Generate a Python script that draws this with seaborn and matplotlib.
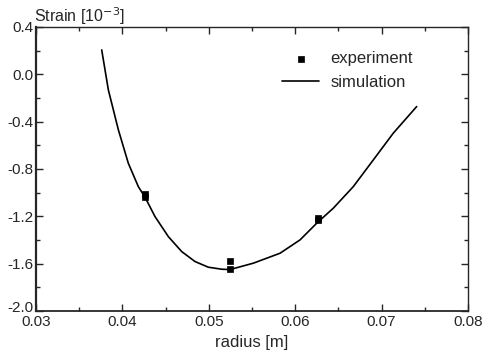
import matplotlib
matplotlib.use('Agg')
import matplotlib.pyplot as plt
import matplotlib.transforms as mtransforms
import numpy as np
import pandas as pd
import seaborn as sns
from matplotlib.ticker import MultipleLocator, FormatStrFormatter

# simulation curve
sim_radius = [0.03760, 0.03837, 0.03953, 0.04068, 0.04184, 0.04262, 0.04377,
              0.04531, 0.04686, 0.04840, 0.04994, 0.05149, 0.05245, 0.05515,
              0.05824, 0.06056, 0.06249, 0.06441, 0.06672, 0.06904, 0.07135,
              0.07406]
sim_strain = [0.206, -0.132, -0.470, -0.752, -0.950, -1.04, -1.203,
              -1.372, -1.499, -1.583, -1.631, -1.648, -1.651, -1.597,
              -1.513, -1.400, -1.259, -1.132, -0.950, -0.724, -0.498,
              -0.273]

# measured points
exp_radius = [0.0426, 0.0426, 0.0525, 0.0525, 0.0626, 0.0626]
exp_strain = [-1.01, -1.04, -1.575, -1.645, -1.212, -1.235]

sns.set_style('ticks')
plt.rcParams['font.family'] = ['Liberation Sans', 'DejaVu Sans']

sim = pd.DataFrame({'radius': sim_radius, 'strain': sim_strain})
exp = pd.DataFrame({'radius': exp_radius, 'strain': exp_strain})

fig = plt.figure(figsize=(4.87, 3.64), dpi=100)
ax = fig.add_axes([0.074, 0.146, 0.887, 0.780])

sns.scatterplot(data=exp, x='radius', y='strain', marker='s', s=24, color='black',
                edgecolor='black', linewidth=0.5, label='experiment', ax=ax, zorder=3)
sns.lineplot(data=sim, x='radius', y='strain', color='black', linewidth=1.2,
             label='simulation', ax=ax, sort=False)

ax.set_xlim(0.03, 0.08)
ax.set_ylim(-2.0, 0.4)
ax.xaxis.set_major_locator(MultipleLocator(0.01))
ax.xaxis.set_minor_locator(MultipleLocator(0.005))
ax.yaxis.set_major_locator(MultipleLocator(0.4))
ax.yaxis.set_minor_locator(MultipleLocator(0.2))
ax.xaxis.set_major_formatter(FormatStrFormatter('%.2f'))
ax.yaxis.set_major_formatter(FormatStrFormatter('%.1f'))
ax.tick_params(which='both', direction='in', top=True, right=True, labelsize=11)
ax.tick_params(which='major', length=5, width=1, pad=2)
ax.tick_params(which='minor', length=3, width=1)
ax.tick_params(axis='x', which='major', pad=3)
for s in ax.spines.values():
    s.set_linewidth(1.0)
ax.spines['left'].set_linewidth(1.6)
ax.spines['bottom'].set_linewidth(1.3)

# lift the bottom y label a little so it clears "0.03"
fig.canvas.draw()
ylabels = ax.get_yticklabels()
lift = mtransforms.ScaledTranslation(0, 3 / 72, fig.dpi_scale_trans)
for lab in ylabels:
    if lab.get_text() in ('-2.0', '−2.0'):
        lab.set_transform(lab.get_transform() + lift)

ax.set_xlabel('radius [m]', fontsize=12, labelpad=4)
ax.set_ylabel('')
ax.text(-0.005, 1.0, 'Strain [10$^{-3}$]', transform=ax.transAxes, fontsize=11.5,
        ha='left', va='bottom')

ax.legend(loc='upper right', bbox_to_anchor=(0.90, 0.955), frameon=False, fontsize=12,
          handlelength=2.2, handletextpad=0.7, labelspacing=0.5, borderpad=0.2)

fig.savefig('out.png', dpi=100)
